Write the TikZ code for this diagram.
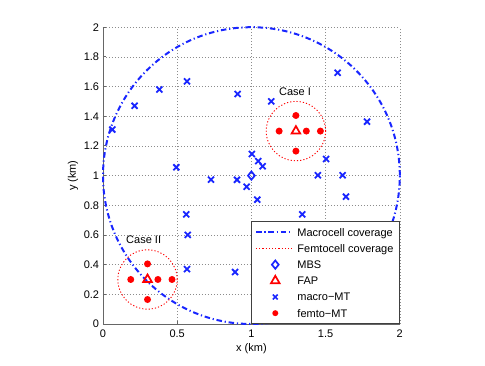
\documentclass[tikz,border=0pt]{standalone}
\usepackage{fontspec}
\setmainfont{Liberation Sans}
\usetikzlibrary{shapes.geometric,shapes.misc}
\definecolor{mblue}{rgb}{0.1,0.15,1}
\definecolor{gridgray}{gray}{0.55}
\definecolor{axisgray}{gray}{0.4}

\begin{document}
\begin{tikzpicture}[
    x=148.4pt, y=148.4pt,
    font=\fontsize{11}{13}\selectfont,
    lbl/.style={inner sep=0pt, text height=7.9pt, text depth=0pt},
    gridline/.style={gridgray, line width=0.6pt, dash pattern=on 0.8pt off 2.2pt},
    axisline/.style={axisgray, line width=0.9pt},
    macrocov/.style={mblue, line width=2pt, dash pattern=on 5.5pt off 2.8pt on 1.2pt off 2.8pt},
    femtocov/.style={red, line width=0.9pt, dash pattern=on 1.2pt off 2pt},
    mbs/.style={diamond, draw=mblue, line width=1.7pt, minimum width=7.5pt, minimum height=9pt, inner sep=0pt},
    fap/.style={regular polygon, regular polygon sides=3, draw=red, line width=1.7pt, minimum size=10pt, inner sep=0pt},
    macromt/.style={cross out, draw=mblue, line width=1.8pt, minimum size=4.2pt, inner sep=0pt},
    femtomt/.style={circle, fill=red, minimum size=7pt, inner sep=0pt}
    ]
    \useasboundingbox (-103pt,-41pt) rectangle (382pt,324pt);
    % grid and axes
    \foreach \x in {0.5,1,1.5,2} \draw[gridline] (\x,0) -- (\x,2);
    \foreach \y in {0.2,0.4,0.6,0.8,1,1.2,1.4,1.6,1.8,2} \draw[gridline] (0,\y) -- (2,\y);
    \draw[axisline] (0,2) -- (0,0) -- (2,0);
    \foreach \x in {0,0.5,1,1.5,2} {
        \draw[axisline] (\x,0) -- ++(0,3pt);
        \node[lbl, anchor=north] (xt\x) at (\x,-0.0357) {\x};
    }
    \foreach \y in {0,0.2,0.4,0.6,0.8,1,1.2,1.4,1.6,1.8,2} {
        \draw[axisline] (0,\y) -- ++(3pt,0);
        \node[lbl, anchor=east] (yt\y) at (-0.025,\y) {\y};
    }
    \node[anchor=base] (xlabel) at (1,-0.1867) {x (km)};
    \node[anchor=base, rotate=90] (ylabel) at (-0.182,1) {y (km)};

    % base stations and coverage
    \coordinate (bs) at (1,1);
    \coordinate (ap1) at (1.3,1.3);
    \coordinate (ap2) at (0.3,0.3);
    \draw[macrocov] (bs) circle[radius=1];
    \draw[femtocov] (ap1) circle[radius=0.2];
    \draw[femtocov] (ap2) circle[radius=0.2];
    \node[lbl] (case1) at (1.294,1.568) {Case I};
    \node[lbl] (case2) at (0.274,0.572) {Case II};

    % macro terminals
    \foreach \x/\y [count=\i] in {0.063/1.31, 0.213/1.47, 0.38/1.58, 0.566/1.635,
        0.907/1.55, 0.494/1.056, 0.728/0.973, 0.903/0.972, 1.003/1.146,
        1.046/1.098, 1.076/1.063, 0.968/0.925, 1.04/0.838, 0.561/0.739,
        0.571/0.6, 0.566/0.37, 0.89/0.35, 1.581/1.693, 1.134/1.5,
        1.779/1.363, 1.503/1.112, 1.448/1.002, 1.615/1.002, 1.637/0.858,
        1.343/0.739}
        \node[macromt] (mt\i) at (\x,\y) {};

    % femto terminals
    \foreach \ap in {ap1,ap2}
        \foreach \dx/\dy [count=\j] in {0/0.105, -0.113/0, 0.07/0, 0.165/0, 0/-0.135}
            \node[femtomt] (\ap-\j) at ([shift={(\dx,\dy)}]\ap) {};

    \node[mbs] (mbs) at (bs) {};
    \node[fap] (fap1) at (ap1) {};
    \node[fap] (fap2) at (ap2) {};

    % legend
    \node[draw=black!75, fill=white, line width=0.7pt, minimum width=148pt,
        minimum height=101.6pt, inner sep=0pt, anchor=south east] (legend) at (2,0.005) {};
    \draw[macrocov] (1.031,0.618) -- (1.272,0.618);
    \draw[femtocov] (1.031,0.509) -- (1.272,0.509);
    \node[mbs] (legmbs) at (1.161,0.400) {};
    \node[fap] (legfap) at (1.161,0.291) {};
    \node[macromt, minimum size=3.2pt, line width=1.6pt] (legmacro) at (1.161,0.182) {};
    \node[femtomt, minimum size=6pt] (legfemto) at (1.161,0.073) {};
    \node[lbl, anchor=west] (l1) at (1.309,0.618) {Macrocell coverage};
    \node[lbl, anchor=west] (l2) at (1.309,0.509) {Femtocell coverage};
    \node[lbl, anchor=west] (l3) at (1.309,0.400) {MBS};
    \node[lbl, anchor=west] (l4) at (1.309,0.291) {FAP};
    \node[lbl, anchor=west] (l5) at (1.309,0.182) {macro−MT};
    \node[lbl, anchor=west] (l6) at (1.309,0.073) {femto−MT};
\end{tikzpicture}
\end{document}
